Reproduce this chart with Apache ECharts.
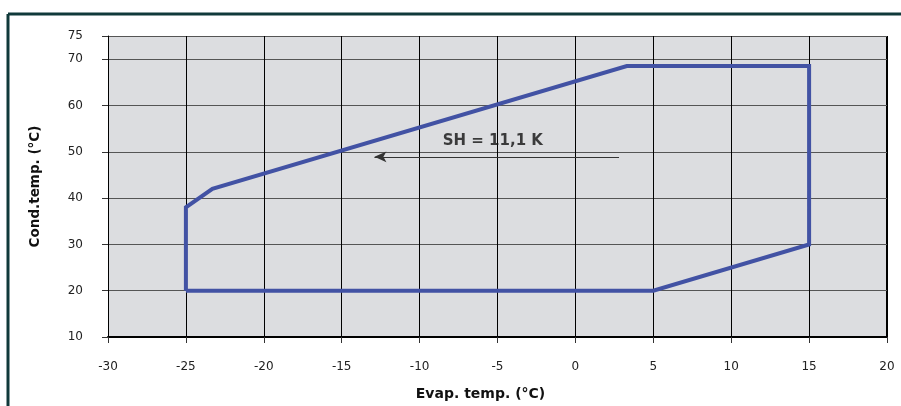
<!DOCTYPE html>
<html>
<head>
<meta charset="utf-8">
<script src="https://cdn.jsdelivr.net/npm/echarts@6/dist/echarts.min.js"></script>
<style>
html,body{margin:0;padding:0;background:#fff;}
#c{width:901px;height:406px;}
</style>
</head>
<body>
<div id="c"></div>
<script>
// Envelope polygon (evap temp, cond temp)
const envelopeEvap = [-25, -25, -23.3, 3.3, 15, 15, 5, -25];
const envelopeCond = [20, 38, 42, 68.5, 68.5, 30, 20, 20];
// Annotation
const annotationText = 'SH = 11,1 K';
const annotationPos = [-5.3, 52.2];
const arrowFrom = [2.8, 48.9];
const arrowTo = [-12.9, 48.9];
// Axes
const xMin = -30, xMax = 20, xStep = 5;
const yMin = 10, yMax = 75, yStep = 10;
const xTitle = 'Evap. temp. (°C)';
const yTitle = 'Cond.temp. (°C)';

const font = '"DejaVu Sans", "Open Sans", sans-serif';
const chart = echarts.init(document.getElementById('c'));
chart.setOption({
  animation: false,
  backgroundColor: '#ffffff',
  grid: { left: 108, right: 14, top: 36, bottom: 68, show: true, backgroundColor: '#dcdde0', borderWidth: 0 },
  xAxis: {
    type: 'value', min: xMin, max: xMax, interval: xStep,
    name: xTitle, nameLocation: 'middle', nameGap: 50,
    nameTextStyle: { fontFamily: font, fontWeight: 'bold', fontSize: 14, color: '#111', padding: [0, 34, 0, 0] },
    axisLine: { show: true, onZero: false, lineStyle: { color: '#000', width: 2 } },
    axisTick: { show: true, length: 6, lineStyle: { color: '#333' } },
    axisLabel: { fontFamily: font, fontSize: 12, color: '#222', margin: 24 },
    splitLine: { show: true, lineStyle: { color: '#000', width: 1 } }
  },
  yAxis: {
    type: 'value', min: yMin, max: yMax, interval: yStep,
    name: yTitle, nameLocation: 'middle', nameGap: 66, nameRotate: 90,
    nameTextStyle: { fontFamily: font, fontWeight: 'bold', fontSize: 13.5, color: '#111' },
    axisLine: { show: true, onZero: false, lineStyle: { color: '#000', width: 1 } },
    axisTick: { show: true, length: 6, lineStyle: { color: '#333' } },
    axisLabel: { fontFamily: font, fontSize: 12, color: '#222', margin: 25 },
    splitLine: { show: true, lineStyle: { color: '#555', width: 1 } }
  },
  graphic: [
    { type: 'line', shape: { x1: 8, y1: 14, x2: 901, y2: 14 }, style: { stroke: '#10393a', lineWidth: 3 } },
    { type: 'line', shape: { x1: 8, y1: 14, x2: 8, y2: 406 }, style: { stroke: '#10393a', lineWidth: 3 } },
    { type: 'line', shape: { x1: 887, y1: 36, x2: 887, y2: 338 }, style: { stroke: '#000', lineWidth: 2 } }
  ],
  series: [
    {
      type: 'line',
      data: envelopeEvap.map((x, i) => [x, envelopeCond[i]]),
      symbol: 'none',
      lineStyle: { color: '#4252a4', width: 4, join: 'miter' },
      z: 5,
      markLine: {
        silent: true,
        symbol: ['none', 'arrow'],
        symbolSize: [8, 12],
        lineStyle: { color: '#333', width: 1, type: 'solid' },
        label: { show: false },
        data: [[{ coord: arrowFrom }, { coord: arrowTo }]]
      }
    },
    {
      type: 'scatter',
      data: [annotationPos],
      symbolSize: 0,
      label: {
        show: true, position: 'inside', formatter: annotationText,
        fontFamily: font, fontWeight: 'bold', fontSize: 15, color: '#111'
      }
    }
  ]
});
</script>
</body>
</html>
